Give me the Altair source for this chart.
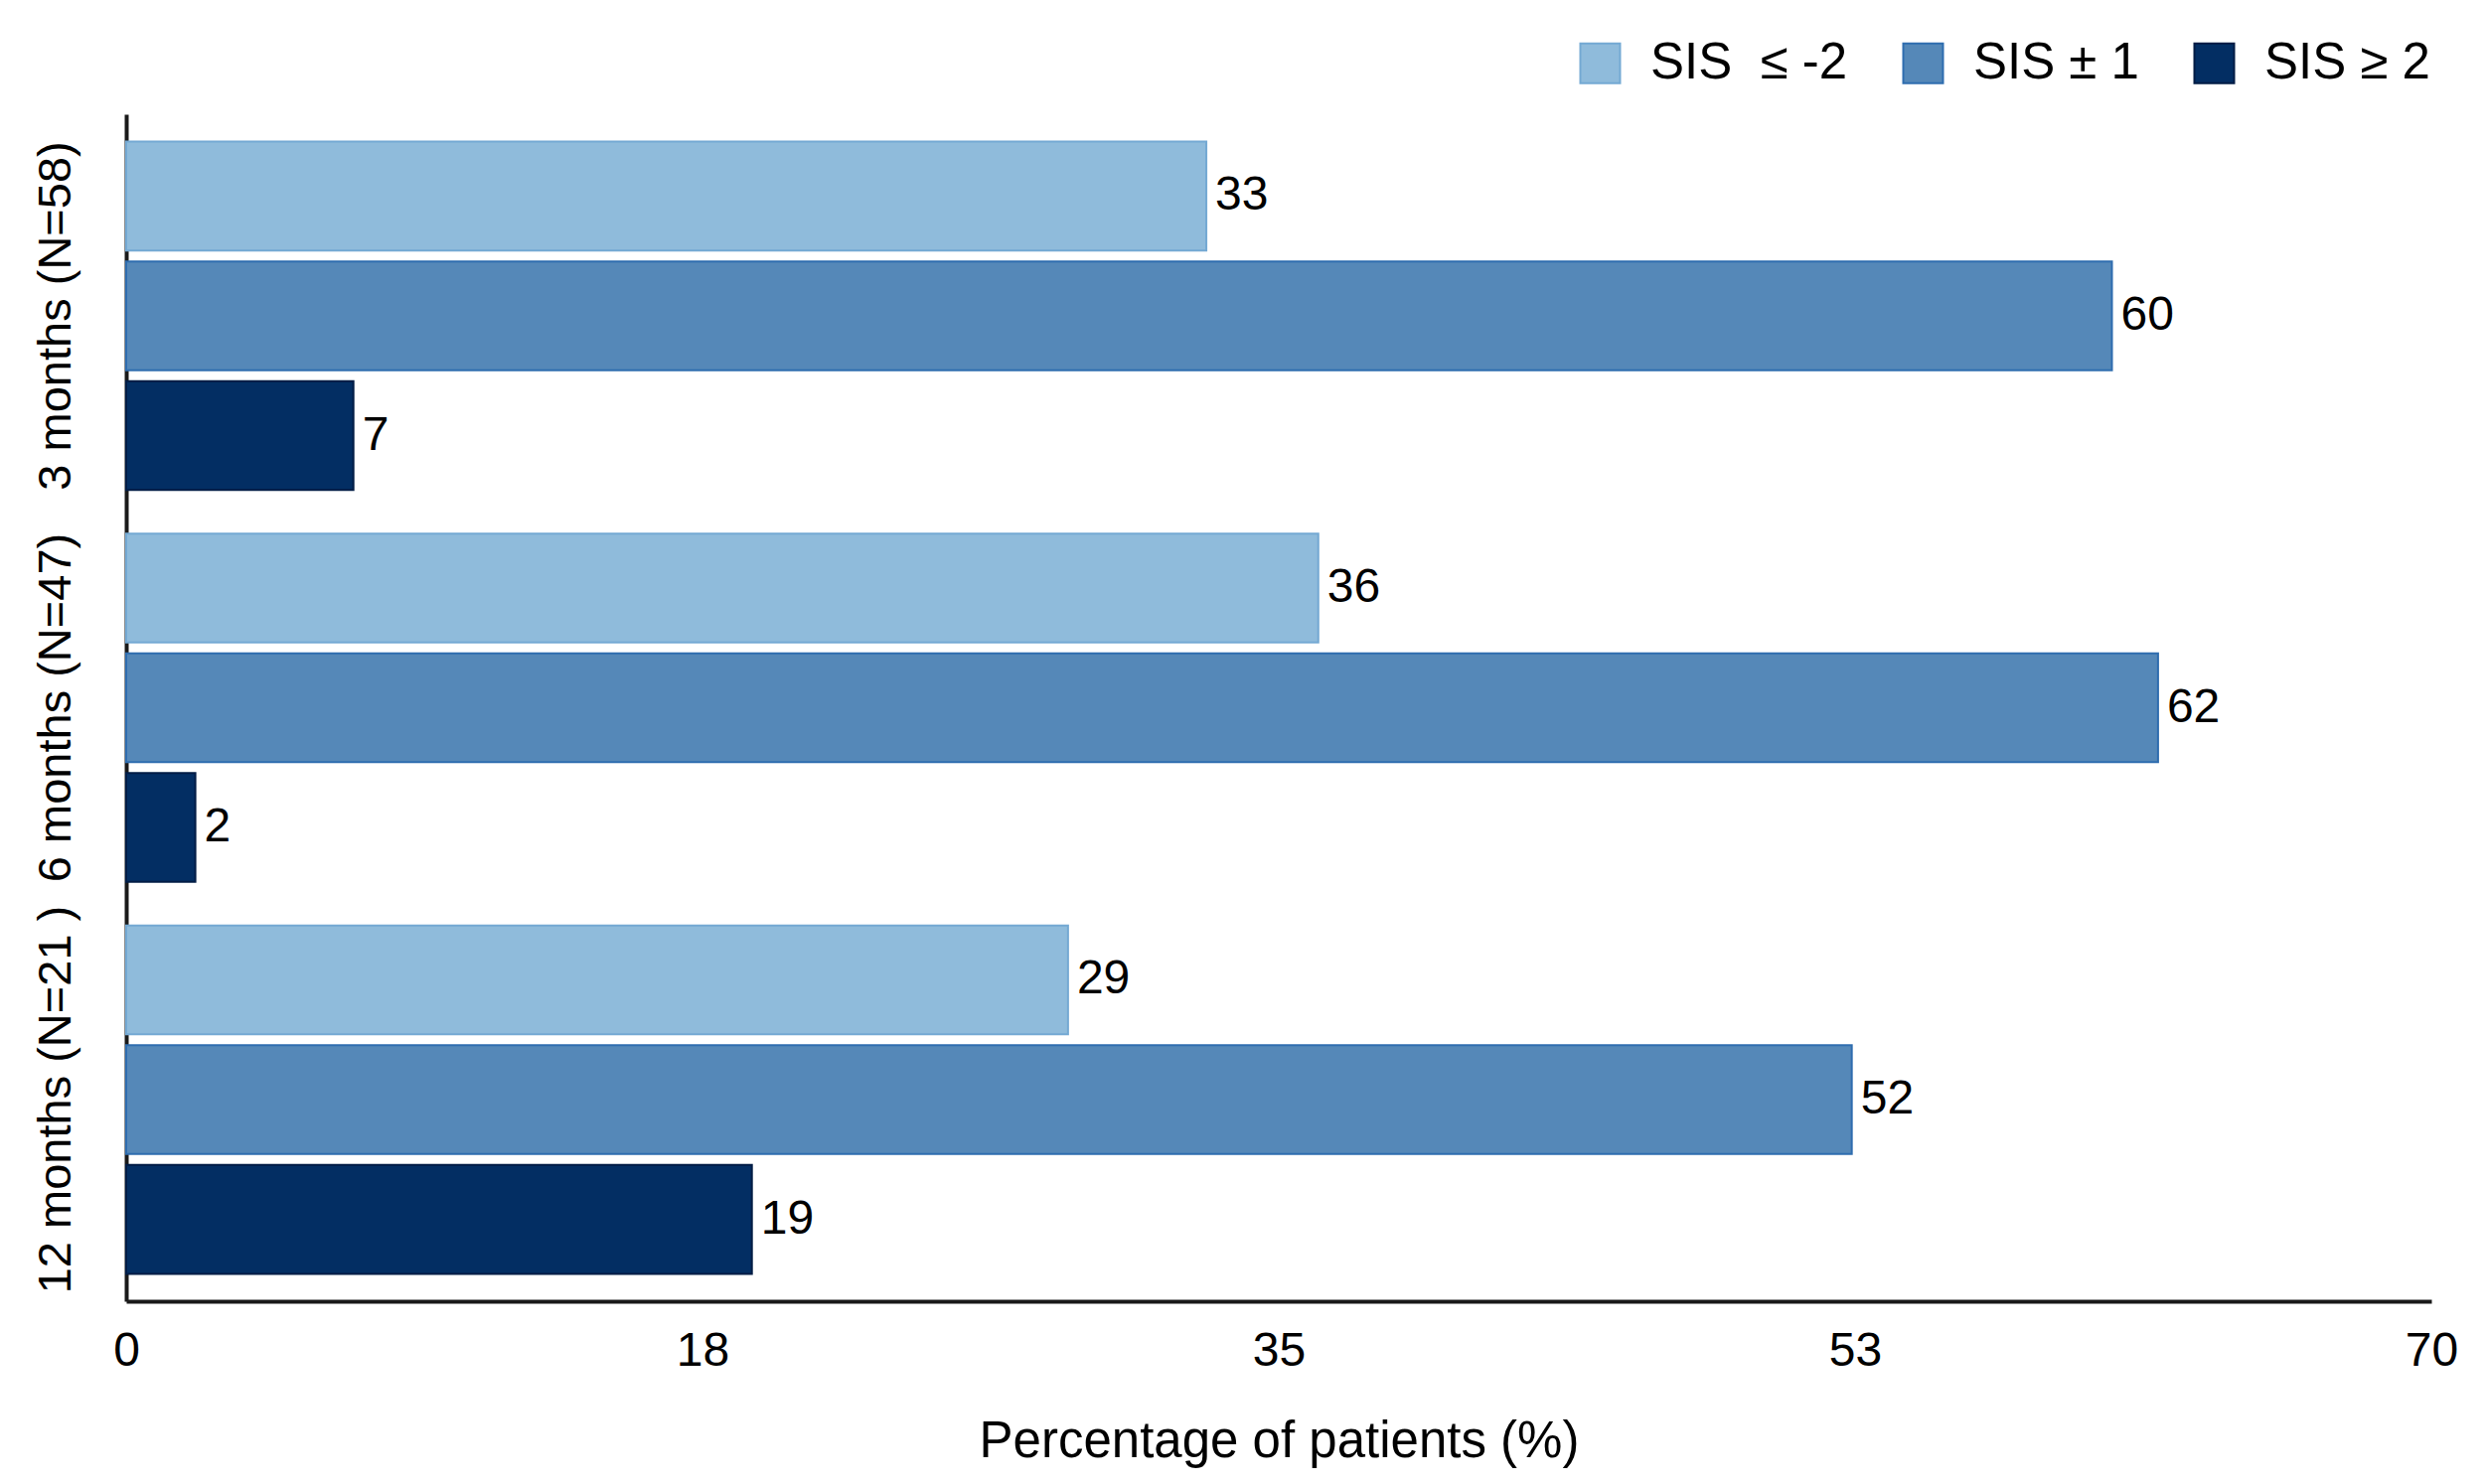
import altair as alt
import pandas as pd

# values (labels show them rounded)
periods = ["3 months (N=58)", "6 months (N=47)", "12 months (N=21 )"]
series = ["SIS\u00a0 ≤ -2", "SIS ± 1", "SIS ≥ 2"]
pct_low = [32.8, 36.2, 28.6]
pct_mid = [60.3, 61.7, 52.4]
pct_high = [6.9, 2.1, 19.0]

fills = ["#8fbbdb", "#5588b8", "#032e63"]
borders = ["#74a9d3", "#2f6daf", "#011c45"]

rows = []
for i, p in enumerate(periods):
    for s, vals in zip(series, [pct_low, pct_mid, pct_high]):
        rows.append({"period": p, "series": s, "pct": vals[i]})
df = pd.DataFrame(rows)

FONT = "Liberation Sans"

y_enc = alt.Y(
    "period:N",
    sort=periods,
    title=None,
    scale=alt.Scale(paddingInner=0.111, paddingOuter=0.07),
    axis=alt.Axis(
        labelAngle=-90,
        labelAlign="center",
        labelBaseline="bottom",
        labelFontSize=47,
        labelFont=FONT,
        labelColor="black",
        labelPadding=47,
        labelLimit=0,
        ticks=False,
        tickSize=0,
        domainColor="#1a1a1a",
        domainWidth=4,
        grid=False,
    ),
)
yoff_enc = alt.YOffset(
    "series:N", sort=series, scale=alt.Scale(domain=series, paddingInner=0.09, paddingOuter=0)
)
x_enc = alt.X(
    "pct:Q",
    title="Percentage of patients (%)",
    scale=alt.Scale(domain=[0, 70], nice=False),
    axis=alt.Axis(
        values=[0, 17.5, 35, 52.5, 70],
        format=".0f",
        labelFontSize=48,
        labelFont=FONT,
        labelColor="black",
        labelPadding=26,
        labelFlush=False,
        ticks=False,
        tickSize=0,
        domainColor="#1a1a1a",
        domainWidth=4,
        grid=False,
        titleFont=FONT,
        titleFontSize=51,
        titleFontWeight="normal",
        titleColor="black",
        titleBaseline="alphabetic",
        titleY=156,
    ),
)

legend = alt.Legend(
    title=None,
    orient="none",
    direction="horizontal",
    legendX=1458,
    legendY=-77,
    symbolType="square",
    symbolSize=1600,
    symbolStrokeWidth=2,
    symbolOpacity=1,
    labelFont=FONT,
    labelFontSize=51,
    labelColor="black",
    labelLimit=0,
    labelOffset=25,
    columnPadding=50,
    padding=0,
)

bars = (
    alt.Chart(df)
    .mark_bar(strokeWidth=2, opacity=1)
    .encode(
        x=x_enc,
        y=y_enc,
        yOffset=yoff_enc,
        fill=alt.Fill("series:N", sort=series, scale=alt.Scale(domain=series, range=fills), legend=legend),
        stroke=alt.Stroke("series:N", sort=series, scale=alt.Scale(domain=series, range=borders), legend=legend),
    )
)

labels = (
    alt.Chart(df)
    .mark_text(align="left", baseline="middle", dx=9, font=FONT, fontSize=48, color="black")
    .encode(
        x="pct:Q",
        y=alt.Y("period:N", sort=periods),
        yOffset=alt.YOffset("series:N", sort=series),
        text=alt.Text("pct:Q", format=".0f"),
    )
)

chart = (
    (bars + labels)
    .properties(
        width=2320,
        height=1195,
        autosize=alt.AutoSizeParams(type="none"),
        padding={"left": 119, "top": 107, "right": 40, "bottom": 170},
        view=alt.ViewBackground(strokeWidth=0, strokeOpacity=0),
    )
    .configure_view(strokeWidth=0, strokeOpacity=0)
    .configure(background="white")
)

chart.save("out.html", embed_options={"renderer": "svg", "actions": False})
